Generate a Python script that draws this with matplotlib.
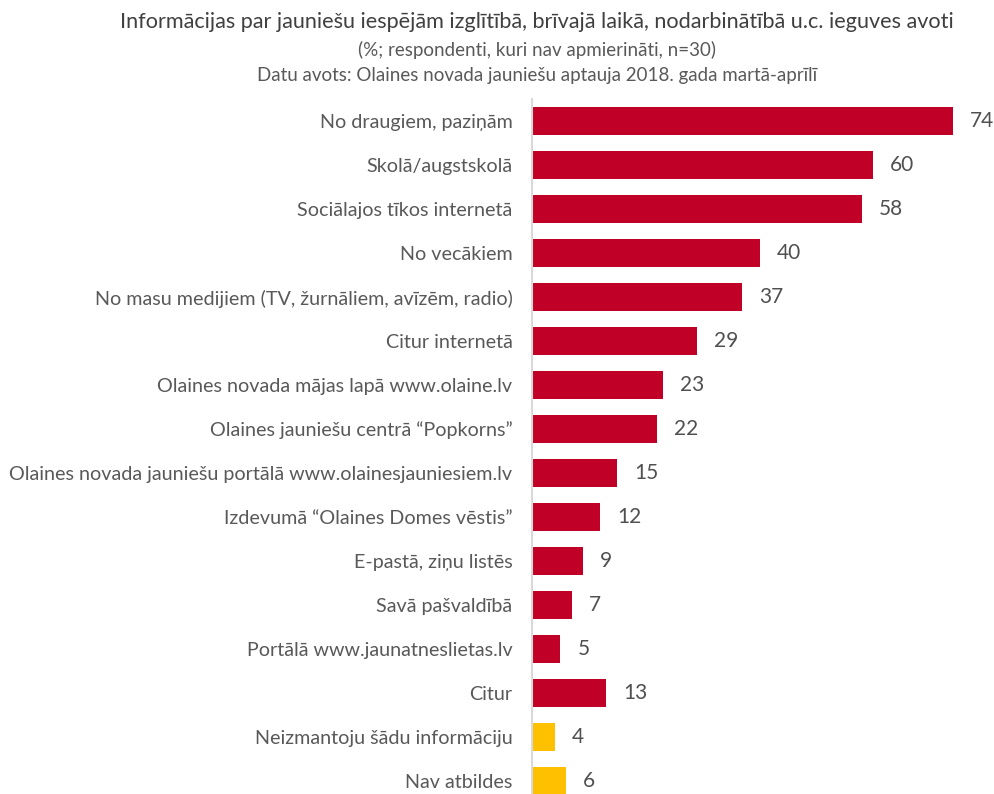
import numpy as np
import matplotlib
matplotlib.use("Agg")
from matplotlib import pyplot as plt

# data
categories = [
    "No draugiem, paziņām",
    "Skolā/augstskolā",
    "Sociālajos tīkos internetā",
    "No vecākiem",
    "No masu medijiem (TV, žurnāliem, avīzēm, radio)",
    "Citur internetā",
    "Olaines novada mājas lapā www.olaine.lv",
    "Olaines jauniešu centrā \u201cPopkorns\u201d",
    "Olaines novada jauniešu portālā www.olainesjauniesiem.lv",
    "Izdevumā \u201cOlaines Domes vēstis\u201d",
    "E-pastā, ziņu listēs",
    "Savā pašvaldībā",
    "Portālā www.jaunatneslietas.lv",
    "Citur",
    "Neizmantoju šādu informāciju",
    "Nav atbildes",
]
values = [74, 60, 58, 40, 37, 29, 23, 22, 15, 12, 9, 7, 5, 13, 4, 6]
is_other = [False] * 14 + [True] * 2

red = "#C00027"
yellow = "#FFC000"
colors = [yellow if o else red for o in is_other]

plt.rcParams['font.family'] = ['Lato', 'DejaVu Sans']

fig = plt.figure(figsize=(9.95, 7.94), dpi=100)
ax = fig.add_axes([0.5347, 0.0, 1 - 0.5347, 0.8753])

y = np.arange(len(categories))
ax.barh(y, values, height=0.63, color=colors)
for yi, v in zip(y, values):
    ax.text(v + 3.0, yi, str(v), va='center', ha='left', fontsize=15, color='#505050')

ax.set_ylim(15.295, -0.5)
ax.set_xlim(0, 81.4)
ax.set_yticks(y)
ax.set_yticklabels(categories, fontsize=14.2, color='#595959')
ax.tick_params(axis='y', length=0, pad=14)
ax.set_xticks([])
for s in ['top', 'right', 'bottom']:
    ax.spines[s].set_visible(False)
ax.spines['left'].set_color('#D9D9D9')
ax.spines['left'].set_linewidth(1.5)

fig.text(0.54, 0.972, "Informācijas par jauniešu iespējām izglītībā, brīvajā laikā, nodarbinātībā u.c. ieguves avoti",
         ha='center', va='center', fontsize=15.6, color='#404040')
fig.text(0.54, 0.937, "(%; respondenti, kuri nav apmierināti, n=30)",
         ha='center', va='center', fontsize=13.5, color='#595959')
fig.text(0.54, 0.905, "Datu avots: Olaines novada jauniešu aptauja 2018. gada martā-aprīlī",
         ha='center', va='center', fontsize=13.5, color='#595959')

fig.savefig("out.png", dpi=100)
